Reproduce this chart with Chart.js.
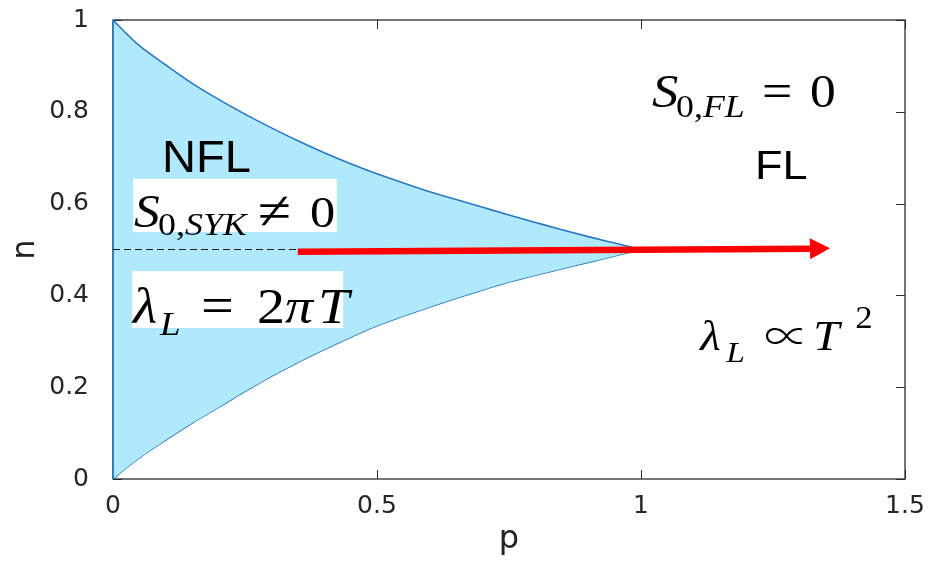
<!DOCTYPE html>
<html>
<head>
<meta charset="utf-8">
<script src="https://cdn.jsdelivr.net/npm/chart.js@4/dist/chart.umd.min.js"></script>
<style>
  html, body { margin: 0; padding: 0; background: #fff; }
  #wrap { width: 928px; height: 561px; }
</style>
</head>
<body>
<div id="wrap"><canvas id="c" width="928" height="561"></canvas></div>
<script>
// Phase boundary n(p): upper and lower branches meeting at p = 1, n = 1/2
const curveP = [0, 0.025, 0.05, 0.1, 0.15, 0.2, 0.25, 0.3, 0.35, 0.4, 0.45, 0.5, 0.55, 0.6, 0.65, 0.7, 0.75, 0.8, 0.85, 0.9, 0.95, 1.0];
const upperN = [1.0, 0.971, 0.944, 0.902, 0.862, 0.827, 0.795, 0.765, 0.737, 0.711, 0.687, 0.665, 0.645, 0.626, 0.609, 0.592, 0.575, 0.559, 0.543, 0.528, 0.514, 0.5];
const lowerN = [0.0, 0.024, 0.046, 0.085, 0.122, 0.156, 0.191, 0.224, 0.254, 0.282, 0.309, 0.334, 0.355, 0.375, 0.394, 0.412, 0.429, 0.444, 0.458, 0.472, 0.486, 0.5];

// p = 0 edge of the NFL region
const edgeP = [0, 0];
const edgeN = [0, 1];

// Half filling reference line and the crossover arrow
const dashP = [0, 0.35];
const dashN = [0.5, 0.5];
const arrowP = [0.35, 1.32];
const arrowN = [0.495, 0.5015];
const arrowTipP = 1.358;
const arrowTipN = 0.5025;

// Axis ticks
const xTickValues = [0, 0.5, 1, 1.5];
const xTickLabels = ['0', '0.5', '1', '1.5'];
const yTickValues = [0, 0.2, 0.4, 0.6, 0.8, 1];
const yTickLabels = ['0', '0.2', '0.4', '0.6', '0.8', '1'];

const pts = (xs, ys) => xs.map((x, i) => ({ x, y: ys[i] }));

const AXIS_COLOR = '#2b2b2b';
const EDGE_COLOR = '#2a78bf';
const REGION_FILL = 'rgb(176, 233, 252)';
const SANS = '"Liberation Sans", Arial, sans-serif';
const it = s => `italic ${s}px "Liberation Serif", "DejaVu Serif", serif`;
const rm = s => `${s}px "Liberation Serif", "DejaVu Serif", serif`;
const sym = s => `300 ${s}px "Noto Sans CJK JP", "DejaVu Sans", sans-serif`;

function drawRuns(ctx, x, y, runs, sx) {
  // runs: {t, f, dx (optional absolute offset), dy}
  let cx = x;
  for (const r of runs) {
    ctx.font = r.f;
    if (r.dx !== undefined) cx = x + r.dx;
    ctx.save();
    ctx.translate(cx, y + (r.dy || 0));
    ctx.scale(sx, 1);
    ctx.fillText(r.t, 0, 0);
    ctx.restore();
    cx += ctx.measureText(r.t).width * sx;
  }
}

const framePlugin = {
  id: 'frame',
  beforeDatasetsDraw(chart) {
    const { ctx, chartArea: a, scales: { x, y } } = chart;
    ctx.save();
    ctx.strokeStyle = AXIS_COLOR;
    ctx.lineWidth = 1.3;
    ctx.strokeRect(a.left, a.top, a.right - a.left, a.bottom - a.top);
    ctx.lineWidth = 1;
    const tl = 9;
    ctx.beginPath();
    xTickValues.forEach(v => {
      const px = Math.round(x.getPixelForValue(v)) + 0.5;
      ctx.moveTo(px, a.bottom); ctx.lineTo(px, a.bottom - tl);
      ctx.moveTo(px, a.top); ctx.lineTo(px, a.top + tl);
    });
    yTickValues.forEach(v => {
      const py = Math.round(y.getPixelForValue(v)) + 0.5;
      ctx.moveTo(a.left, py); ctx.lineTo(a.left + tl, py);
      ctx.moveTo(a.right, py); ctx.lineTo(a.right - tl, py);
    });
    ctx.stroke();
    ctx.restore();
  },
  afterDatasetsDraw(chart) {
    const { ctx, scales: { x, y } } = chart;
    const X = v => x.getPixelForValue(v);
    const Y = v => y.getPixelForValue(v);
    ctx.save();

    // arrow head
    const bx = X(arrowP[1]), by = Y(arrowN[1]);
    const tx = X(arrowTipP), ty = Y(arrowTipN);
    const ang = Math.atan2(ty - by, tx - bx);
    const hw = 10.5;
    ctx.fillStyle = '#ff0000';
    ctx.beginPath();
    ctx.moveTo(tx, ty);
    ctx.lineTo(bx + hw * Math.sin(ang), by - hw * Math.cos(ang));
    ctx.lineTo(bx - hw * Math.sin(ang), by + hw * Math.cos(ang));
    ctx.closePath();
    ctx.fill();

    // white label boxes
    ctx.fillStyle = '#ffffff';
    const box = (p0, p1, n0, n1) => ctx.fillRect(X(p0), Y(n0), X(p1) - X(p0), Y(n1) - Y(n0));
    box(0.038, 0.424, 0.654, 0.538);
    box(0.036, 0.436, 0.453, 0.329);

    ctx.fillStyle = '#000000';
    ctx.textBaseline = 'alphabetic';
    ctx.textAlign = 'left';

    // regime names
    drawRuns(ctx, X(0.093), Y(0.669), [{ t: 'NFL', f: `44px ${SANS}` }], 1.07);
    drawRuns(ctx, X(1.216), Y(0.654), [{ t: 'FL', f: `41px ${SANS}` }], 1.1);

    const sx = 1.12;
    // S_{0,SYK} ≠ 0
    drawRuns(ctx, X(0.040), Y(0.549), [
      { t: 'S', f: it(46) },
      { t: '0,', f: rm(32), dx: 24, dy: 8 },
      { t: 'SYK', f: it(32), dy: 8 },
      { t: '\u2260', f: rm(54), dx: 124, dy: 2 },
      { t: '0', f: rm(45), dx: 176 }
    ], sx);
    // λ_L = 2πT
    drawRuns(ctx, X(0.038), Y(0.340), [
      { t: '\u03bb', f: it(50) },
      { t: 'L', f: it(33), dx: 27, dy: 12 },
      { t: '=', f: rm(52), dx: 68 },
      { t: '2', f: rm(50), dx: 124 },
      { t: '\u03c0', f: it(50), dx: 152 },
      { t: 'T', f: it(50), dx: 185 }
    ], sx);
    // S_{0,FL} = 0
    drawRuns(ctx, X(1.021), Y(0.810), [
      { t: 'S', f: it(47) },
      { t: '0,', f: rm(32), dx: 24, dy: 10 },
      { t: 'FL', f: it(32), dy: 10 },
      { t: '=', f: rm(48), dx: 110 },
      { t: '0', f: rm(46), dx: 158 }
    ], sx);
    // λ_L ∝ T^2
    drawRuns(ctx, X(1.112), Y(0.281), [
      { t: '\u03bb', f: it(42) },
      { t: 'L', f: it(30), dx: 26, dy: 12 },
      { t: '\u221d', f: sym(40), dx: 64, dy: 1 },
      { t: 'T', f: it(42), dx: 113 },
      { t: '2', f: rm(31), dx: 155, dy: -22 }
    ], sx);

    ctx.restore();
  }
};

const branch = (ys, order, fill) => ({
  data: pts(curveP, ys),
  showLine: true,
  fill,
  backgroundColor: REGION_FILL,
  borderColor: EDGE_COLOR,
  borderWidth: 1.6,
  pointRadius: 0,
  cubicInterpolationMode: 'monotone',
  order
});

// keep the plot rectangle fixed by the layout padding alone
const noPad = s => { s.paddingTop = 0; s.paddingBottom = 0; s.paddingLeft = 0; s.paddingRight = 0; };

new Chart(document.getElementById('c'), {
  type: 'scatter',
  data: {
    datasets: [
      {
        data: pts(arrowP, arrowN),
        showLine: true,
        borderColor: '#ff0000',
        borderWidth: 6.5,
        pointRadius: 0,
        order: 0
      },
      {
        data: pts(dashP, dashN),
        showLine: true,
        borderColor: '#1a1a1a',
        borderWidth: 1,
        borderDash: [7, 4],
        pointRadius: 0,
        order: 1
      },
      {
        data: pts(edgeP, edgeN),
        showLine: true,
        borderColor: EDGE_COLOR,
        borderWidth: 1.8,
        pointRadius: 0,
        clip: false,
        order: 2
      },
      branch(upperN, 3, '+1'),
      branch(lowerN, 4, false)
    ]
  },
  options: {
    responsive: false,
    animation: false,
    devicePixelRatio: 1,
    layout: { padding: { left: 0, top: 20, right: 23, bottom: 0 } },
    plugins: { legend: { display: false }, tooltip: { enabled: false } },
    scales: {
      x: {
        type: 'linear',
        min: 0, max: 1.5,
        grid: { display: false },
        border: { display: false },
        afterBuildTicks: s => { s.ticks = xTickValues.map(v => ({ value: v })); },
        afterFit: s => { s.height = 82; noPad(s); },
        ticks: {
          padding: 4,
          color: '#262626',
          font: { family: '"DejaVu Sans", sans-serif', size: 25 },
          maxRotation: 0,
          callback: (v, i) => xTickLabels[i]
        },
        title: {
          display: true,
          text: 'p',
          color: '#222',
          font: { family: '"DejaVu Sans", sans-serif', size: 32 },
          padding: { top: 0, bottom: 2 }
        }
      },
      y: {
        type: 'linear',
        min: 0, max: 1,
        grid: { display: false },
        border: { display: false },
        afterBuildTicks: s => { s.ticks = yTickValues.map(v => ({ value: v })); },
        afterFit: s => { s.width = 113; noPad(s); },
        ticks: {
          padding: 16,
          color: '#262626',
          font: { family: '"DejaVu Sans", sans-serif', size: 25 },
          callback: (v, i) => yTickLabels[i]
        },
        title: {
          display: true,
          text: 'n',
          color: '#222',
          font: { family: '"DejaVu Sans", sans-serif', size: 32 },
          padding: { top: 6, bottom: 0 }
        }
      }
    }
  },
  plugins: [framePlugin]
});
</script>
</body>
</html>
